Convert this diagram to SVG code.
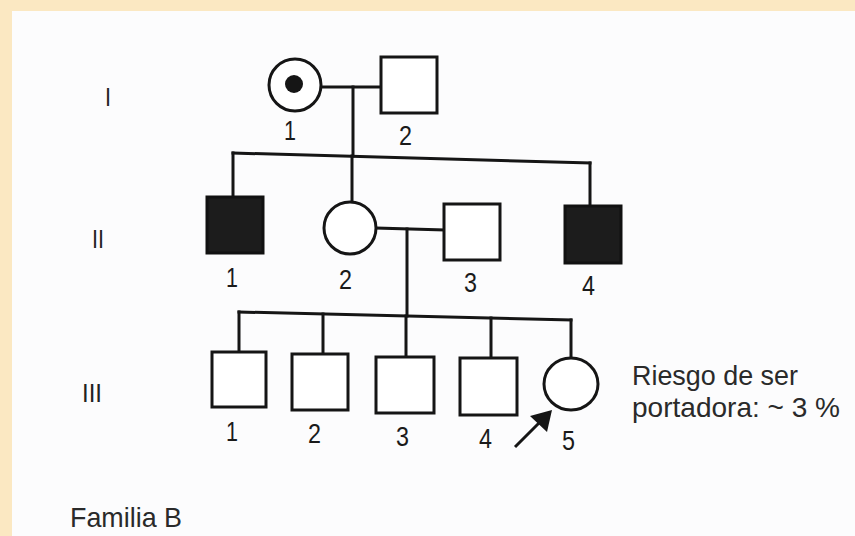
<svg xmlns="http://www.w3.org/2000/svg" width="855" height="536" viewBox="0 0 855 536">
  <style>
    .ln { stroke: #151515; stroke-width: 3; fill: none; stroke-linecap: square; }
    .open { fill: #ffffff; stroke: #151515; stroke-width: 3; }
    .aff { fill: #1c1c1c; stroke: #111111; stroke-width: 3; }
    .num { font-family: "Liberation Sans", Arial, sans-serif; font-size: 27px; fill: #1a1a1a; }
    .gen { font-family: "Liberation Sans", Arial, sans-serif; font-size: 26px; fill: #222222; }
    .note { font-family: "Liberation Sans", Arial, sans-serif; font-size: 28px; fill: #2a2a2a; }
  </style>

  <!-- paper on a cream backing -->
  <rect x="0" y="0" width="855" height="536" fill="#fbe8c2"/>
  <rect x="12" y="11" width="843" height="525" fill="#fcfcfd"/>

  <!-- connectors -->
  <g id="connectors">
    <!-- generation I couple and descent -->
    <line class="ln" x1="321" y1="87" x2="381" y2="87"/>
    <line class="ln" x1="353" y1="87" x2="353" y2="156"/>
    <!-- generation II sibship -->
    <line class="ln" x1="233" y1="153" x2="590" y2="163"/>
    <line class="ln" x1="233" y1="153" x2="233" y2="197"/>
    <line class="ln" x1="352" y1="156" x2="352" y2="202"/>
    <line class="ln" x1="590" y1="163" x2="590" y2="206"/>
    <!-- generation II couple and descent -->
    <line class="ln" x1="376" y1="228" x2="444" y2="230"/>
    <line class="ln" x1="407" y1="229" x2="407" y2="316"/>
    <!-- generation III sibship -->
    <line class="ln" x1="239" y1="312" x2="571" y2="320"/>
    <line class="ln" x1="239" y1="312" x2="239" y2="352"/>
    <line class="ln" x1="323" y1="314" x2="323" y2="354"/>
    <line class="ln" x1="406" y1="316" x2="406" y2="357"/>
    <line class="ln" x1="491" y1="318" x2="491" y2="358"/>
    <line class="ln" x1="571" y1="320" x2="571" y2="358"/>
    <!-- proband arrow -->
    <line x1="515" y1="447" x2="541" y2="421" stroke="#151515" stroke-width="3"/>
    <polygon points="552,410 547,432 530,416" fill="#151515"/>
  </g>

  <!-- generation labels -->
  <text class="gen" x="105" y="106" textLength="6" lengthAdjust="spacingAndGlyphs">I</text>
  <text class="gen" x="92" y="248" textLength="12" lengthAdjust="spacingAndGlyphs">II</text>
  <text class="gen" x="82" y="402" textLength="20" lengthAdjust="spacingAndGlyphs">III</text>

  <!-- generation I -->
  <g id="I-1">
    <circle class="open" cx="295" cy="85" r="26"/>
    <circle cx="294" cy="84" r="9" fill="#151515"/>
    <text class="num" x="284" y="140" textLength="12" lengthAdjust="spacingAndGlyphs">1</text>
  </g>
  <g id="I-2">
    <rect class="open" x="381" y="57" width="56" height="56"/>
    <text class="num" x="399" y="145" textLength="13" lengthAdjust="spacingAndGlyphs">2</text>
  </g>

  <!-- generation II -->
  <g id="II-1">
    <rect class="aff" x="207" y="197" width="56" height="56"/>
    <text class="num" x="226" y="287" textLength="12" lengthAdjust="spacingAndGlyphs">1</text>
  </g>
  <g id="II-2">
    <circle class="open" cx="350" cy="228" r="26"/>
    <text class="num" x="339" y="289" textLength="13" lengthAdjust="spacingAndGlyphs">2</text>
  </g>
  <g id="II-3">
    <rect class="open" x="444" y="204" width="56" height="56"/>
    <text class="num" x="464" y="292" textLength="13" lengthAdjust="spacingAndGlyphs">3</text>
  </g>
  <g id="II-4">
    <rect class="aff" x="565" y="206" width="56" height="57"/>
    <text class="num" x="582" y="295" textLength="13" lengthAdjust="spacingAndGlyphs">4</text>
  </g>

  <!-- generation III -->
  <g id="III-1">
    <rect class="open" x="212" y="352" width="54" height="55"/>
    <text class="num" x="226" y="441" textLength="12" lengthAdjust="spacingAndGlyphs">1</text>
  </g>
  <g id="III-2">
    <rect class="open" x="292" y="354" width="56" height="56"/>
    <text class="num" x="308" y="443" textLength="13" lengthAdjust="spacingAndGlyphs">2</text>
  </g>
  <g id="III-3">
    <rect class="open" x="376" y="357" width="58" height="56"/>
    <text class="num" x="396" y="446" textLength="13" lengthAdjust="spacingAndGlyphs">3</text>
  </g>
  <g id="III-4">
    <rect class="open" x="460" y="358" width="57" height="57"/>
    <text class="num" x="479" y="448" textLength="13" lengthAdjust="spacingAndGlyphs">4</text>
  </g>
  <g id="III-5">
    <ellipse class="open" cx="571" cy="384" rx="27" ry="26"/>
    <text class="num" x="562" y="450" textLength="13" lengthAdjust="spacingAndGlyphs">5</text>
  </g>

  <!-- annotation -->
  <g id="risk-note">
    <text class="note" x="632" y="385" textLength="166" lengthAdjust="spacingAndGlyphs">Riesgo de ser</text>
    <text class="note" x="632" y="417" textLength="208" lengthAdjust="spacingAndGlyphs">portadora: ~ 3 %</text>
  </g>

  <text class="note" x="70" y="527" textLength="112" lengthAdjust="spacingAndGlyphs">Familia B</text>
</svg>
